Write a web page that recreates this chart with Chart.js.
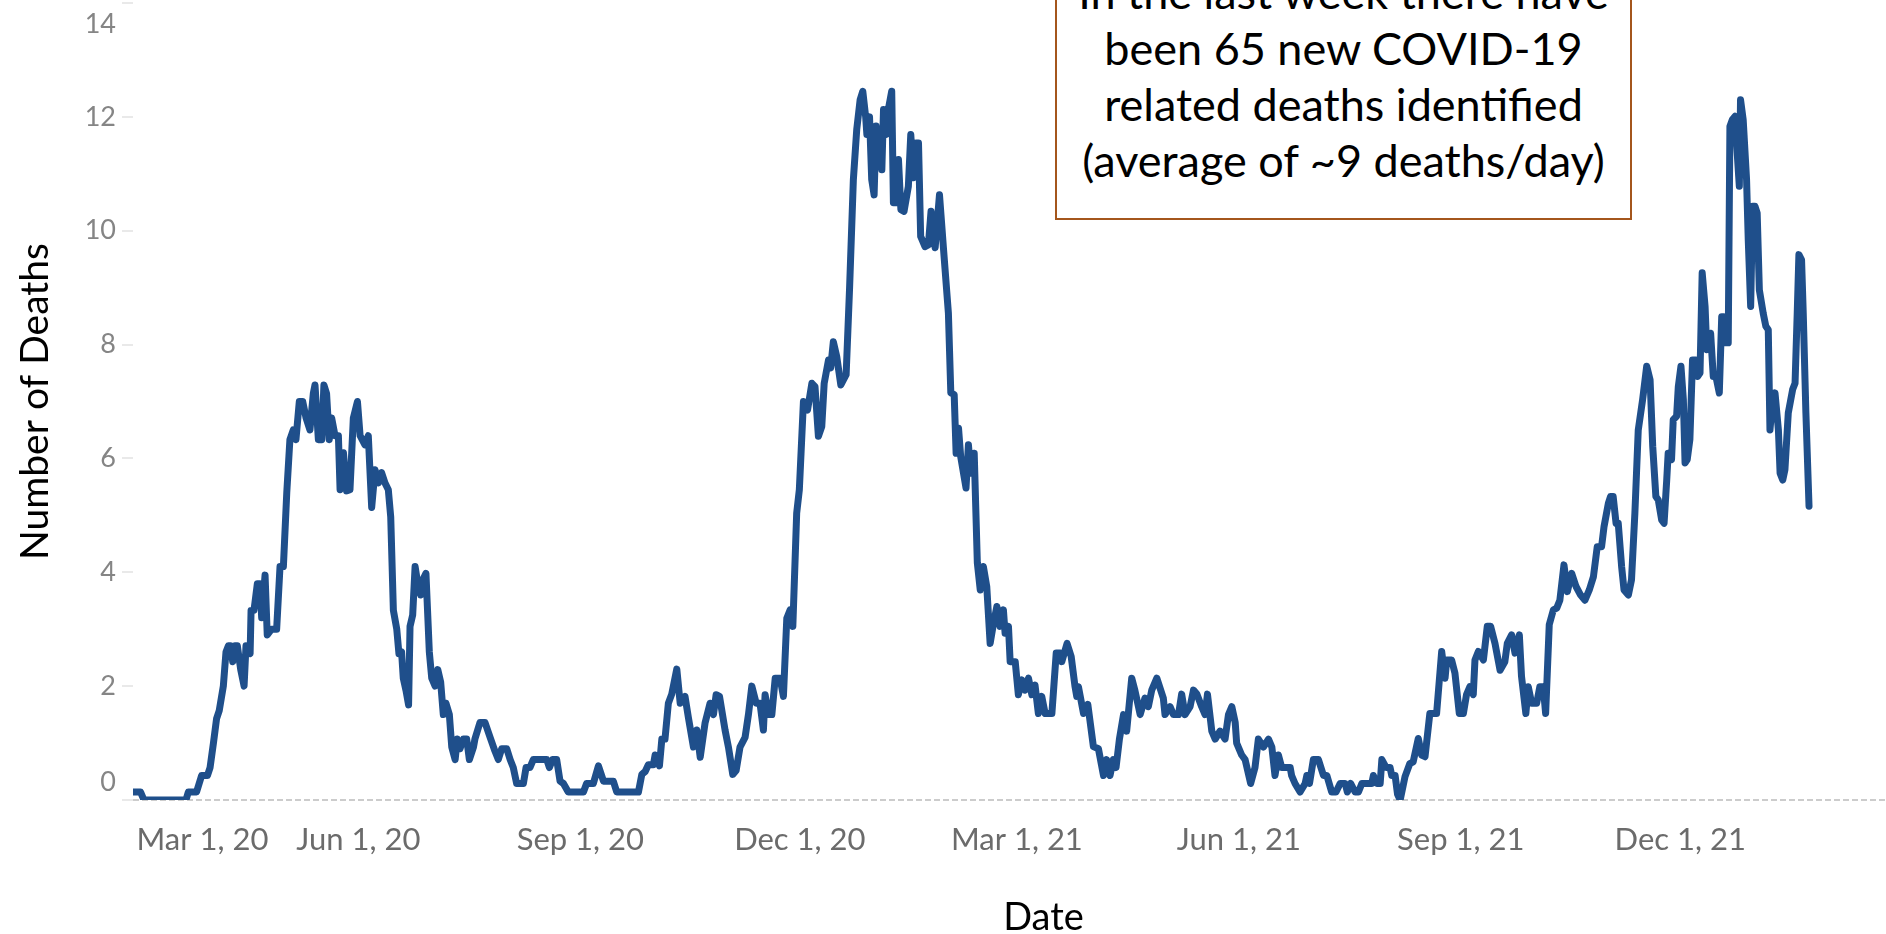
<!DOCTYPE html>
<html>
<head>
<meta charset="utf-8">
<title>Number of Deaths</title>
<script src="https://cdn.jsdelivr.net/npm/chart.js@4"></script>
<style>
    html, body { margin: 0; padding: 0; background: #fff; }
    #wrap { position: relative; width: 1886px; height: 934px; overflow: hidden; }
    #chart { position: absolute; left: 0; top: 0; }
    .note {
        position: absolute;
        left: 1055px;
        top: -60px;
        width: 577px;
        height: 280px;
        box-sizing: border-box;
        border: 2px solid #a4561c;
        background: #fff;
        padding-top: 22px;
        font-family: Lato, "Open Sans", sans-serif;
        font-size: 45px;
        line-height: 56px;
        text-align: center;
        color: #000;
    }
</style>
</head>
<body>
<div id="wrap">
    <canvas id="chart" width="1954" height="934"></canvas>
    <div class="note">In the last week there have<br>been 65 new COVID-19<br>related deaths identified<br>(average of ~9 deaths/day)</div>
</div>
<script>
// x positions are days counted from Mar 1, 2020
const tickDays = [0, 92, 184, 275, 365, 457, 549, 640];
const tickLabels = ['Mar 1, 20', 'Jun 1, 20', 'Sep 1, 20', 'Dec 1, 20', 'Mar 1, 21', 'Jun 1, 21', 'Sep 1, 21', 'Dec 1, 21'];
const yTicks = [0, 2, 4, 6, 8, 10, 12, 14];

// daily deaths (7-day average), one value per day entry below
const days = [
    -1.3, 1.7, 3.1, 20.5, 21.5, 24.9, 27.0, 29.4, 30.5, 31.9,
    33.2, 34.3, 36.0, 37.1, 38.1, 39.0, 39.9, 40.8, 41.8, 43.2,
    44.6, 45.4, 47.1, 47.5, 48.7, 50.1, 51.2, 51.9, 53.3, 54.2,
    56.0, 58.1, 59.5, 60.9, 62.3, 63.6, 65.0, 66.1, 67.5, 68.9,
    70.3, 71.9, 73.3, 74.0, 75.4, 76.8, 77.7, 78.8, 79.9, 80.9,
    82.3, 83.7, 84.4, 85.8, 87.1, 88.5, 89.9, 91.6, 92.7, 94.7,
    96.1, 97.5, 98.9, 100.3, 101.6, 103.0, 104.4, 105.4, 106.5, 107.9,
    108.8, 109.9, 110.6, 111.7, 112.8, 113.4, 114.5, 115.5, 116.4, 117.8,
    118.6, 120.0, 121.4, 122.4, 123.8, 124.9, 126.1, 127.2, 128.3, 129.7,
    130.7, 132.1, 133.0, 134.1, 135.5, 136.9, 138.0, 139.7, 140.3, 142.4,
    144.5, 146.6, 148.6, 150.0, 151.4, 153.5, 154.9, 156.2, 157.6, 160.4,
    161.5, 163.1, 164.5, 170.1, 171.2, 172.5, 174.2, 175.6, 177.0, 179.0,
    185.3, 186.6, 189.4, 191.5,
    193.6, 197.7, 199.1, 208.1, 209.5, 210.9, 212.2, 214.3, 215.0, 216.8,
    217.8, 219.1, 220.5, 221.9, 224.0, 225.4, 227.4, 228.8, 230.9, 232.3,
    233.7, 235.7, 237.8, 239.2, 240.3, 241.7, 244.0, 245.4, 247.2, 248.6,
    250.2, 252.3, 253.7, 255.1, 256.9, 258.5, 259.9, 260.6, 262.0, 263.4,
    264.8, 266.8, 268.2, 269.6, 271.0, 272.1,
    273.7, 274.8, 276.5, 278.2, 280.0, 281.3, 282.7, 284.1, 285.1, 286.9,
    287.8, 288.9, 290.3, 292.0, 294.2, 295.6, 297.2, 298.6, 300.0, 301.1,
    302.3, 302.8, 303.9, 304.8, 305.8, 306.6, 307.6, 308.0, 309.0, 309.7,
    310.8, 311.7, 313.1, 313.8, 314.9, 315.9, 316.9, 318.2, 320.0, 321.0,
    322.1, 323.2, 324.2, 325.1, 326.9, 328.3, 329.4, 330.4, 331.1, 332.9,
    334.5, 336.6, 337.6, 339.0, 339.8, 340.8, 341.7, 343.9, 344.9, 345.9,
    347.3, 348.6, 349.8,
    351.1, 352.5, 353.9, 355.3, 356.7, 358.0, 359.4, 360.1, 361.5, 362.2,
    364.3, 365.6, 367.0, 368.4, 369.8, 371.2, 372.5, 373.9, 375.3, 376.7,
    379.5, 381.3, 383.0, 383.6, 385.8, 387.5, 389.1, 389.8, 390.5, 392.6,
    394.4, 396.7, 398.8,
    400.9, 402.2, 403.6, 405.0, 406.1, 407.5, 409.2, 410.5, 412.6, 413.9,
    416.1, 418.1, 419.5, 420.9, 423.0, 425.7, 426.4, 428.5, 429.9, 432.0,
    433.3, 434.7, 436.8, 438.2, 439.6, 441.6, 443.0, 444.0, 445.8, 447.2,
    449.2, 451.3, 452.7, 454.1, 455.5, 456.1, 458.2, 459.6, 461.9, 463.7,
    465.1, 467.2, 469.3, 470.7, 472.0, 473.4, 474.8, 478.3, 478.9, 480.3,
    482.4, 484.5, 485.2, 486.3, 487.9, 490.0, 492.1, 493.5, 495.5, 497.3,
    499.0, 501.1, 502.0, 503.4, 505.2, 506.6, 508.0, 512.1, 512.8, 514.2,
    515.6, 516.3, 518.1, 519.7, 520.4, 521.8, 522.8, 523.9,
    525.9, 527.9, 529.3, 531.4, 532.8, 534.2, 536.2, 539.0, 541.1, 542.5,
    543.2, 545.2, 546.6, 548.4, 550.1, 551.4, 552.8, 554.2, 554.9, 556.3,
    558.4, 560.0, 561.4, 563.2, 565.3, 567.3, 568.3, 570.1, 571.5, 573.3,
    574.2, 576.0, 577.0, 578.4, 580.5, 581.8, 583.2, 584.2, 585.7, 587.4,
    588.8, 590.1,
    591.8, 593.2, 595.0, 596.8, 598.7, 600.5, 602.3, 604.0, 605.6, 607.4,
    608.4, 610.2, 611.1, 612.2, 613.4, 614.3, 615.7, 616.7, 618.5, 619.8,
    621.2, 622.6, 624.4, 626.1, 627.5, 628.6, 629.9, 630.9, 632.3, 633.3,
    634.4, 635.0, 636.4, 637.1, 638.5, 639.2, 640.3, 641.3, 642.0, 642.9,
    644.0, 645.1, 646.5, 647.2, 648.2, 649.1, 650.3, 651.0, 652.6, 653.7,
    654.8, 656.2, 657.2, 658.1, 659.0, 659.9, 660.6, 661.6, 662.7, 663.7,
    664.5, 665.0, 666.1, 667.5, 668.2, 669.2, 670.0, 671.0, 671.9, 672.8,
    674.4, 675.5, 676.5, 677.2, 678.3, 679.3, 680.7, 681.4, 682.5, 683.4,
    684.8, 686.6, 687.6, 688.5, 689.2, 690.3, 691.0, 692.1, 693.4
];

const deaths = [
    0.14, 0.14, 0, 0, 0.14, 0.14, 0.43, 0.43, 0.57, 1.0,
    1.43, 1.57, 2.0, 2.6, 2.71, 2.71, 2.43, 2.71, 2.71, 2.29,
    2.0, 2.71, 2.57, 3.33, 3.33, 3.8, 3.8, 3.2, 3.95, 2.9,
    3.0, 3.0, 4.1, 4.1, 5.4, 6.33, 6.5, 6.33, 7.0, 7.0,
    6.71, 6.5, 7.14, 7.29, 6.33, 6.33, 7.29, 7.14, 6.33, 6.71,
    6.4, 6.4, 5.45, 6.1, 5.43, 5.45, 6.71, 7.0, 6.4, 6.24,
    6.4, 5.14, 5.8, 5.57, 5.75, 5.57, 5.45, 4.97, 3.33, 3.0,
    2.57, 2.6, 2.14, 1.93, 1.67, 3.05, 3.25, 4.1, 3.86, 3.6,
    3.86, 3.98, 2.6, 2.14, 2.0, 2.29, 2.07, 1.5, 1.7, 1.5,
    0.93, 0.71, 1.07, 0.9, 1.07, 1.07, 0.71, 0.93, 1.07, 1.36,
    1.36, 1.1, 0.86, 0.71, 0.9, 0.9, 0.71, 0.57, 0.29, 0.29,
    0.57, 0.57, 0.71, 0.71, 0.57, 0.71, 0.71, 0.33, 0.29, 0.14,
    0.14, 0.29, 0.29, 0.6,
    0.33, 0.33, 0.14, 0.14, 0.45, 0.5, 0.62, 0.62, 0.79, 0.6,
    1.07, 1.07, 1.7, 1.86, 2.3, 1.7, 1.82, 1.45, 0.93, 1.23,
    0.75, 1.35, 1.7, 1.5, 1.85, 1.82, 1.23, 0.93, 0.45, 0.52,
    0.93, 1.1, 1.5, 2.0, 1.7, 1.7, 1.23, 1.85, 1.5, 1.5,
    2.14, 2.14, 1.82, 3.19, 3.34, 3.05,
    5.04, 5.45, 7.0, 6.85, 7.32, 7.26, 6.39, 6.56, 7.32, 7.73,
    7.59, 8.05, 7.79, 7.29, 7.47, 8.96, 10.9, 11.78, 12.3, 12.45,
    12.0, 11.69, 12.0, 10.9, 10.63, 11.84, 11.31, 11.69, 11.07, 12.13,
    11.69, 12.13, 12.45, 10.49, 10.49, 11.25, 10.37, 10.34, 10.78, 11.69,
    10.93, 11.54, 11.54, 9.9, 9.72, 9.75, 10.34, 9.9, 9.7, 10.63,
    9.72, 8.55, 7.15, 7.12, 6.09, 6.53, 6.03, 5.48, 6.24, 5.74,
    6.09, 4.16, 3.69,
    4.1, 3.75, 2.75, 3.1, 3.4, 3.05, 3.34, 2.93, 3.05, 2.43,
    2.43, 1.85, 2.11, 1.93, 2.14, 1.85, 2.02, 1.52, 1.82, 1.52,
    1.52, 2.58, 2.58, 2.43, 2.75, 2.52, 1.99, 1.82, 1.99, 1.52,
    1.68, 0.94, 0.9,
    0.43, 0.71, 0.43, 0.71, 0.57, 1.07, 1.5, 1.21, 2.14, 1.93,
    1.5, 1.79, 1.64, 1.93, 2.14, 1.79, 1.5, 1.64, 1.5, 1.5,
    1.86, 1.5, 1.64, 1.93, 1.86, 1.64, 1.5, 1.86, 1.21, 1.07,
    1.21, 1.07, 1.5, 1.64, 1.36, 1.0, 0.79, 0.71, 0.29, 0.57,
    1.07, 0.93, 1.07, 0.93, 0.43, 0.79, 0.57, 0.57, 0.43, 0.29,
    0.14, 0.29, 0.43, 0.29, 0.71, 0.71, 0.43, 0.43, 0.14, 0.14,
    0.29, 0.29, 0.14, 0.29, 0.14, 0.14, 0.29, 0.29, 0.43, 0.29,
    0.29, 0.71, 0.57, 0.57, 0.43, 0.43, 0.1, 0,
    0.41, 0.64, 0.67, 1.08, 0.79, 0.76, 1.52, 1.52, 2.61, 2.14,
    2.46, 2.46, 2.23, 1.52, 1.52, 1.85, 1.99, 1.85, 2.46, 2.61,
    2.46, 3.05, 3.05, 2.75, 2.28, 2.43, 2.75, 2.9, 2.58, 2.9,
    2.17, 1.52, 1.99, 1.7, 1.7, 1.99, 1.99, 1.52, 3.08, 3.34,
    3.37, 3.51,
    4.13, 3.66, 3.98, 3.75, 3.6, 3.51, 3.69, 3.92, 4.45, 4.45,
    4.8, 5.21, 5.33, 5.33, 4.86, 4.86, 4.1, 3.69, 3.6, 3.87,
    5.04, 6.5, 7.03, 7.62, 7.38, 6.21, 5.33, 5.27, 4.92, 4.86,
    5.62, 6.09, 5.98, 6.68, 6.74, 7.26, 7.62, 7.03, 5.92, 5.98,
    6.33, 7.73, 7.73, 7.44, 7.5, 9.26, 8.67, 7.91, 8.2, 7.44,
    7.44, 7.15, 8.49, 8.49, 8.03, 8.03, 11.83, 11.95, 12.01, 11.31,
    10.78, 12.3, 11.95, 10.9, 9.84, 8.67, 10.43, 10.43, 10.31, 8.96,
    8.55, 8.32, 8.26, 6.5, 7.03, 7.15, 6.5, 5.74, 5.62, 5.8,
    6.8, 7.21, 7.32, 8.55, 9.58, 9.49, 8.55, 6.8, 5.16
];

// tick labels drawn by hand so the edge labels stay inside the pane
const tickText = {
    id: 'tickText',
    afterDraw(chart) {
        const { ctx, chartArea, scales: { x, y } } = chart;
        ctx.save();
        ctx.textBaseline = 'middle';

        ctx.font = '27px Lato';
        ctx.fillStyle = '#858585';
        ctx.textAlign = 'right';
        yTicks.forEach(v => {
            let py = y.getPixelForValue(v);
            py = Math.min(Math.max(py, chartArea.top + 21), chartArea.bottom - 18);
            ctx.fillText(String(v), y.right - 17, py);
        });

        ctx.font = '31px Lato';
        ctx.fillStyle = '#6b6b6b';
        tickDays.forEach((d, i) => {
            const px = x.getPixelForValue(d);
            const w = ctx.measureText(tickLabels[i]).width;
            ctx.textAlign = (px - w / 2 < chartArea.left) ? 'left' : 'center';
            ctx.fillText(tickLabels[i], px, 840);
        });
        ctx.restore();
    }
};

const ctx = document.getElementById('chart').getContext('2d');
new Chart(ctx, {
    type: 'line',
    data: {
        datasets: [{
            data: days.map((d, i) => ({ x: d, y: deaths[i] })),
            borderColor: '#1f4f8b',
            borderWidth: 7,
            borderJoinStyle: 'round',
            borderCapStyle: 'round',
            pointRadius: 0,
            tension: 0,
            fill: false
        }]
    },
    options: {
        responsive: false,
        animation: false,
        devicePixelRatio: 1,
        layout: { padding: { top: 3, right: 0, left: 0, bottom: 0 } },
        plugins: {
            legend: { display: false },
            tooltip: { enabled: false }
        },
        scales: {
            x: {
                type: 'linear',
                min: -1.45,
                max: 753.5,
                afterBuildTicks: scale => { scale.ticks = tickDays.map(v => ({ value: v })); },
                afterFit: scale => { scale.height = 134; },
                grid: { display: false },
                border: { display: false },
                ticks: { display: false },
                title: {
                    display: true,
                    text: 'Date',
                    color: '#000',
                    font: { family: 'Lato', size: 38, lineHeight: 0.85 },
                    padding: { top: 0, bottom: 0 }
                }
            },
            y: {
                min: 0,
                max: 14,
                afterBuildTicks: scale => { scale.ticks = yTicks.map(v => ({ value: v })); },
                afterFit: scale => { scale.width = 133; },
                grid: {
                    drawOnChartArea: true,
                    color: c => (c.tick && c.tick.value === 0) ? '#cccccc' : 'rgba(0,0,0,0)',
                    lineWidth: 2,
                    drawTicks: true,
                    tickLength: 11,
                    tickColor: '#e9e9e9',
                    tickWidth: 2
                },
                border: { display: false, dash: [6, 3] },
                ticks: { display: false },
                title: {
                    display: true,
                    text: 'Number of Deaths',
                    color: '#000',
                    font: { family: 'Lato', size: 39, lineHeight: 1 },
                    padding: { top: 16, bottom: 0 }
                }
            }
        }
    },
    plugins: [tickText]
});
</script>
</body>
</html>
